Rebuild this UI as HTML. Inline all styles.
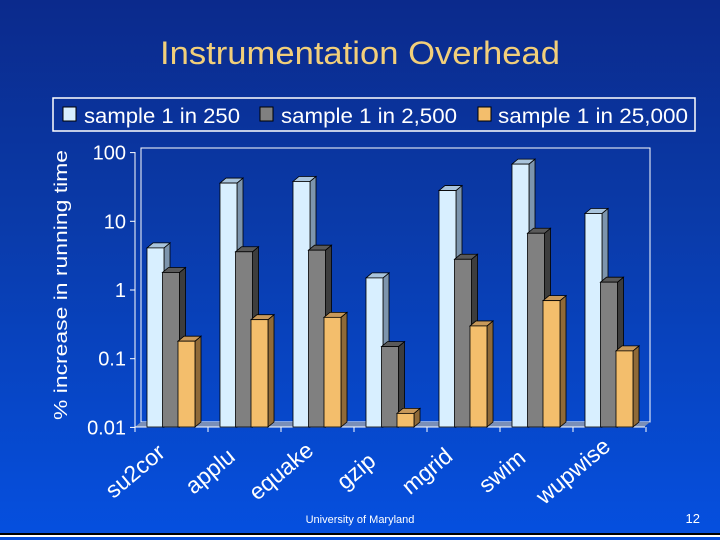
<!DOCTYPE html>
<html><head><meta charset="utf-8"><style>
html,body{margin:0;padding:0;}
body{width:720px;height:540px;overflow:hidden;background:linear-gradient(#0b2a8c 0%,#0a3aa8 40%,#0550e0 100%);font-family:"Liberation Sans",sans-serif;}
svg{display:block}
</style></head><body>
<svg width="720" height="540" id="svg">
<text x="360" y="64" text-anchor="middle" fill="#f2cf7a" font-size="32" textLength="400" lengthAdjust="spacingAndGlyphs">Instrumentation Overhead</text>
<g>
<rect x="53" y="98" width="642" height="33" fill="none" stroke="#fff" stroke-width="1.5"/>
<rect x="63" y="107" width="13" height="14" fill="#d8efff" stroke="#000"/>
<text x="84" y="123" fill="#fff" font-size="21" textLength="156" lengthAdjust="spacingAndGlyphs">sample 1 in 250</text>
<rect x="260" y="107" width="13" height="14" fill="#808080" stroke="#000"/>
<text x="281" y="123" fill="#fff" font-size="21" textLength="176" lengthAdjust="spacingAndGlyphs">sample 1 in 2,500</text>
<rect x="478" y="107" width="13" height="14" fill="#f3be6c" stroke="#000"/>
<text x="498" y="123" fill="#fff" font-size="21" textLength="190" lengthAdjust="spacingAndGlyphs">sample 1 in 25,000</text>
</g>
<text transform="translate(67,285) rotate(-90)" text-anchor="middle" fill="#fff" font-size="18" textLength="270" lengthAdjust="spacingAndGlyphs">% increase in running time</text>
<rect x="141" y="148" width="509" height="274" fill="none" stroke="#fff" stroke-width="1"/>
<g id="plot"></g>
<text x="360" y="523" text-anchor="middle" fill="#fff" font-size="11">University of Maryland</text>
<text x="700" y="523" text-anchor="end" fill="#fff" font-size="13">12</text>
<rect x="0" y="533" width="720" height="2" fill="#000"/>
<rect x="0" y="535" width="720" height="2" fill="#fff"/>
</svg>
<script>
const categories=["su2cor","applu","equake","gzip","mgrid","swim","wupwise"];
const s250=[4.1,36,38,1.5,28,68,13];
const s2500=[1.8,3.6,3.8,0.15,2.8,6.7,1.3];
const s25000=[0.18,0.37,0.4,0.016,0.3,0.7,0.13];
const tickVals=[100,10,1,0.1,0.01];
const tickLabels=["100","10","1","0.1","0.01"];
const NS="http://www.w3.org/2000/svg";
const plot=document.getElementById('plot');
const X0=135,STEP=73,YB=427,DEC=68.7,DX=6,DY=-5;
function y(v){return 290-Math.log10(v)*DEC;}
function gx(i){return X0+STEP*i;}
function mk(tag,at){const e=document.createElementNS(NS,tag);for(const k in at)e.setAttribute(k,at[k]);plot.appendChild(e);return e;}
const fl=mk('polygon',{points:`${X0},${YB} ${X0+DX},${YB+DY} ${650},${YB+DY} ${650-DX},${YB}`,fill:'#7a8fb8'});


const ax=mk('line',{x1:X0,y1:152,x2:X0,y2:YB,stroke:'#fff'});


const bx=mk('line',{x1:X0,y1:YB,x2:645,y2:YB,stroke:'#fff'});


tickVals.forEach((v,i)=>{
  const t=mk('line',{x1:X0-5,y1:y(v),x2:X0,y2:y(v),stroke:'#fff'});
  
  
  const l=mk('text',{x:X0-9,y:y(v)+7,'text-anchor':'end',fill:'#fff','font-size':20});
  l.textContent=tickLabels[i];
  
  
});
for(let i=0;i<=categories.length;i++){
  const t=mk('line',{x1:gx(i),y1:YB,x2:gx(i),y2:YB+5,stroke:'#fff'});
  
  
}
const series=[[s250,'#d8efff','#a9c4dc','#7d95ad'],[s2500,'#808080','#5a5a5a','#3d3d3d'],[s25000,'#f3be6c','#c8995a','#8f6a38']];
categories.forEach((c,i)=>{
  series.forEach((s,j)=>{
    const v=s[0][i],x=gx(i)+12+j*15.5,w=17,t=y(v);
    const side=mk('polygon',{points:`${x+w},${t} ${x+w+DX},${t+DY} ${x+w+DX},${YB+DY} ${x+w},${YB}`,fill:s[3],stroke:'#000','stroke-width':0.8});
    
    
    const top=mk('polygon',{points:`${x},${t} ${x+DX},${t+DY} ${x+w+DX},${t+DY} ${x+w},${t}`,fill:s[2],stroke:'#000','stroke-width':0.8});
    
    
    const r=mk('rect',{x:x,y:t,width:w,height:YB-t,fill:s[1],stroke:'#000','stroke-width':0.8});
    
    
  });
  const lx=gx(i)+5+(i%2?2:0),ly=477;
  const lab=mk('text',{x:lx,y:ly,'text-anchor':'middle',fill:'#fff','font-size':23,transform:`rotate(-40 ${lx} ${ly})`});
  lab.textContent=c;
  
  
});
</script>
</body></html>
